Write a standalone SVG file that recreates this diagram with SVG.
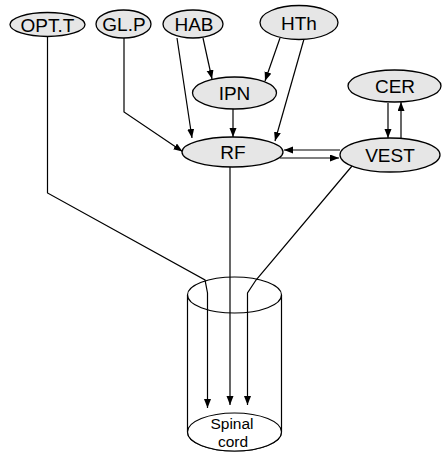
<svg xmlns="http://www.w3.org/2000/svg" width="443" height="452" viewBox="0 0 443 452">
<style>
.n{fill:#e6e6e6;stroke:#000;stroke-width:1.3}
.c{fill:none;stroke:#000;stroke-width:1.2}
.cy{fill:#fff;stroke:#000;stroke-width:1.2}
.t{font-family:"Liberation Sans",Arial,sans-serif;font-size:19px;text-anchor:middle;fill:#000}
.s{font-family:"Liberation Sans",Arial,sans-serif;font-size:15.5px;text-anchor:middle;fill:#000}
</style>
<defs>
<marker id="ah" markerUnits="userSpaceOnUse" markerWidth="10" markerHeight="8" refX="9" refY="3.5" orient="auto">
<path d="M0,0 L9,3.5 L0,7 z" fill="#000"/>
</marker>
</defs>
<g id="spinal-cord">
<path class="cy" d="M187.5 295 V432 A47 19 0 0 0 281.5 432 V295"/>
<ellipse cx="234.5" cy="295" rx="47" ry="18" style="fill:none;stroke:#000;stroke-width:1.2"/>
<ellipse class="cy" cx="234.5" cy="432" rx="47" ry="19"/>
<text class="s" x="232" y="429">Spinal</text>
<text class="s" x="233" y="447">cord</text>
</g>
<g id="connectors" class="c" marker-end="url(#ah)">
<path d="M47.5 37 V193 L205 280 L207.5 293 V408"/>
<path d="M230 167 V405"/>
<path d="M352 166 L256 280 L247.5 293 V405"/>
<path d="M124 38 V112 L182.5 151.5"/>
<path d="M177 38 L192 138"/>
<path d="M203 38 L212 79"/>
<path d="M280 38 L265 81"/>
<path d="M304 39 L275 141"/>
<path d="M233 109 V137"/>
<path d="M340 150 H284"/>
<path d="M280 158 H339"/>
<path d="M388 103 V138"/>
<path d="M401 138 V102"/>
</g>
<g id="OPT.T"><ellipse class="n" cx="47.5" cy="24.5" rx="37.5" ry="12"/><text class="t" x="47.5" y="31.5">OPT.T</text></g>
<g id="GL.P"><ellipse class="n" cx="123.5" cy="24" rx="27.5" ry="14"/><text class="t" x="124" y="31">GL.P</text></g>
<g id="HAB"><ellipse class="n" cx="193" cy="24" rx="30" ry="14"/><text class="t" x="194" y="31">HAB</text></g>
<g id="HTh"><ellipse class="n" cx="299" cy="22.5" rx="39" ry="17"/><text class="t" x="299" y="29.5">HTh</text></g>
<g id="IPN"><ellipse class="n" cx="234.5" cy="93" rx="42" ry="16"/><text class="t" x="234.5" y="100">IPN</text></g>
<g id="CER"><ellipse class="n" cx="394.5" cy="86" rx="46.5" ry="16"/><text class="t" x="395" y="93">CER</text></g>
<g id="RF"><ellipse class="n" cx="232.5" cy="152" rx="50.5" ry="15"/><text class="t" x="233" y="159">RF</text></g>
<g id="VEST"><ellipse class="n" cx="390" cy="155" rx="50" ry="17"/><text class="t" x="390" y="162">VEST</text></g>
</svg>
